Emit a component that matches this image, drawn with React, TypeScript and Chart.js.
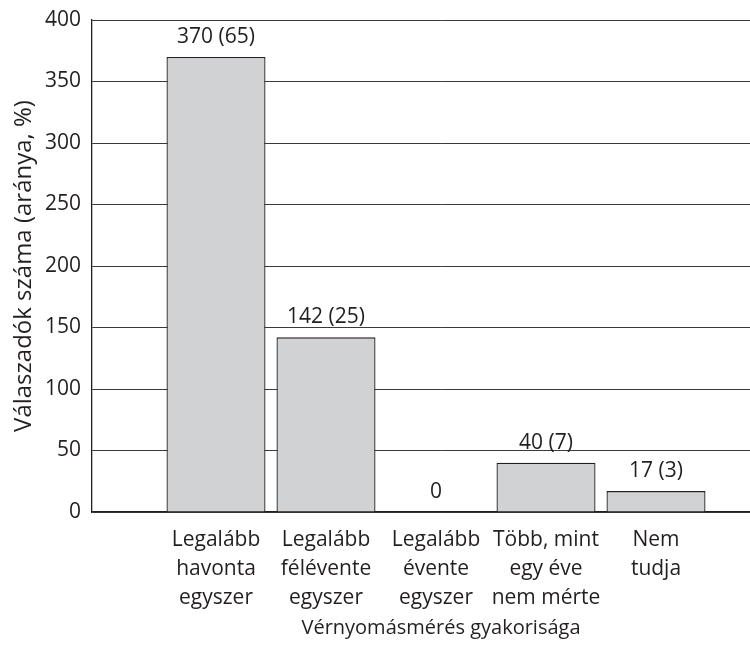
import React, { useEffect, useRef } from "react";
import { Chart, registerables } from "chart.js";

Chart.register(...registerables);

const categories: string[][] = [
  ["Legalább", "havonta", "egyszer"],
  ["Legalább", "félévente", "egyszer"],
  ["Legalább", "évente", "egyszer"],
  ["Több, mint", "egy éve", "nem mérte"],
  ["Nem", "tudja"],
];
const counts: number[] = [370, 142, 0, 40, 17];
const percents: (number | null)[] = [65, 25, null, 7, 3];
const yTicks: number[] = [0, 50, 100, 150, 200, 250, 300, 350, 400];
const xTitle = "Vérnyomásmérés gyakorisága";
const yTitle = "Válaszadók száma (aránya, %)";

const FONT = "'Open Sans', 'Noto Sans', sans-serif";
const TEXT = "#231f20";

const valueLabels = counts.map((c, i) =>
  percents[i] === null ? `${c}` : `${c} (${percents[i]})`
);

const labelPlugin = {
  id: "valueLabels",
  afterDatasetsDraw(chart: any) {
    const ctx = chart.ctx;
    const meta = chart.getDatasetMeta(0);
    ctx.save();
    ctx.font = `21px ${FONT}`;
    ctx.fillStyle = TEXT;
    ctx.textAlign = "center";
    ctx.textBaseline = "middle";
    meta.data.forEach((bar: any, i: number) => {
      ctx.fillText(valueLabels[i], bar.x, bar.y - 20);
    });
    ctx.restore();
  },
};

export default function App() {
  const ref = useRef<HTMLCanvasElement | null>(null);
  useEffect(() => {
    if (!ref.current) return;
    const chart = new Chart(ref.current, {
      type: "bar",
      data: {
        datasets: [
          {
            data: counts.map((v, i) => ({ x: i + 1, y: v })),
            backgroundColor: "#d1d2d4",
            borderColor: "#231f20",
            borderWidth: 1.3,
            borderSkipped: "bottom",
            barPercentage: 0.9,
            categoryPercentage: 1,
          },
        ],
      },
      options: {
        responsive: false,
        animation: false,
        layout: { padding: { top: 20, left: 0, right: 0, bottom: 0 } },
        plugins: {
          legend: { display: false },
          tooltip: { enabled: false },
        },
        scales: {
          x: {
            type: "linear",
            offset: false,
            min: 1 - 124 / 110,
            max: 1 - 124 / 110 + 698 / 110,
            afterBuildTicks: (scale: any) => {
              scale.ticks = categories.map((_, i) => ({ value: i + 1 }));
            },
            afterFit: (scale: any) => {
              scale.height = 136;
            },
            grid: { display: false, drawTicks: false },
            border: { display: true, color: "#231f20", width: 1.3 },
            ticks: {
              padding: 14,
              color: TEXT,
              font: { family: FONT, size: 21, lineHeight: 1.38 },
              maxRotation: 0,
              autoSkip: false,
              callback: (v: any) => {
                const idx = Math.round(Number(v)) - 1;
                return categories[idx] ?? "";
              },
            },
            title: {
              display: true,
              text: xTitle,
              color: TEXT,
              font: { family: FONT, size: 20 },
              padding: { top: 0, bottom: 8 },
            },
          },
          y: {
            min: 0,
            max: 400,
            afterBuildTicks: (scale: any) => {
              scale.ticks = yTicks.map((v) => ({ value: v }));
            },
            afterFit: (scale: any) => {
              scale.width = 92;
            },
            grid: { color: "#3a3a3a", lineWidth: 1, drawTicks: false },
            border: { display: true, color: "#231f20", width: 1.3 },
            ticks: {
              padding: 11,
              color: TEXT,
              font: { family: FONT, size: 21, lineHeight: 0.85 },
            },
            title: {
              display: true,
              text: yTitle,
              color: TEXT,
              font: { family: FONT, size: 24 },
              padding: { top: 10, bottom: 0 },
            },
          },
        },
      },
      plugins: [labelPlugin],
    });
    return () => chart.destroy();
  }, []);

  return (
    <div
      style={{
        position: "fixed",
        left: 0,
        top: 0,
        width: 750,
        height: 648,
        overflow: "hidden",
        background: "#fff",
      }}
    >
      <canvas ref={ref} width={790} height={648} style={{ display: "block" }} />
    </div>
  );
}
